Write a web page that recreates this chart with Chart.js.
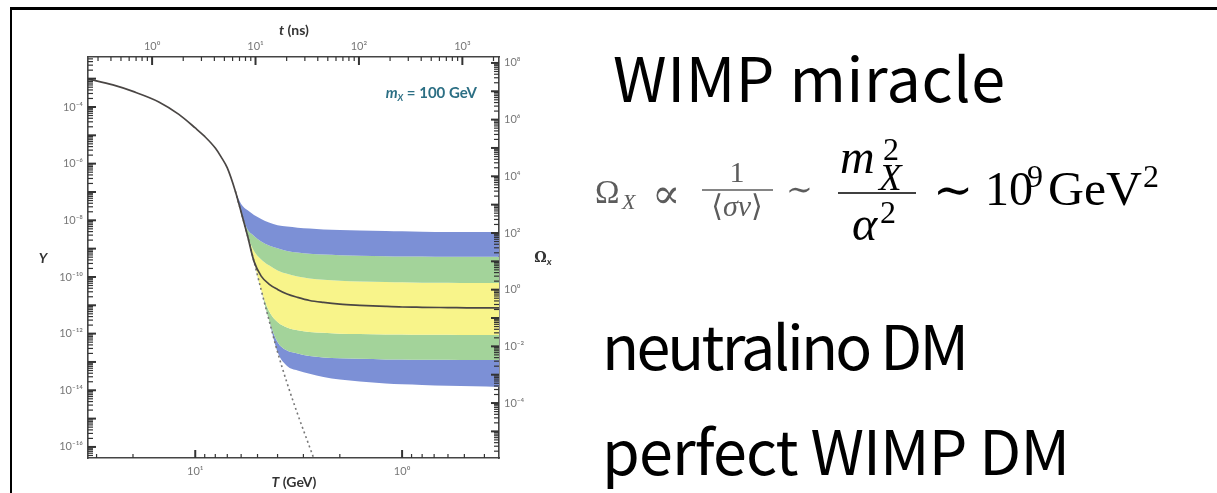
<!DOCTYPE html>
<html>
<head>
<meta charset="utf-8">
<script src="https://cdn.jsdelivr.net/npm/chart.js@4.4.1/dist/chart.umd.min.js"></script>
<style>
html, body { margin: 0; padding: 0; background: #fff; width: 1217px; height: 493px; overflow: hidden; }
#frame { position: absolute; left: 10px; top: 7px; width: 1300px; height: 600px; border-top: 3px solid #000; border-left: 2px solid #000; }
#wrap { position: absolute; left: 12px; top: 10px; width: 548px; height: 483px; }
svg { position: absolute; left: 0; top: 0; }
</style>
</head>
<body>
<div id="frame"></div>
<div id="wrap"><canvas id="relicChart" width="548" height="483" style="width:548px;height:483px"></canvas></div>

<svg width="1217" height="493" font-family="'Liberation Serif','DejaVu Serif',serif">
  <g font-family="'Noto Sans CJK JP','Noto Sans',sans-serif" font-size="61" fill="#000">
    <text x="613" y="102" textLength="392" lengthAdjust="spacing">WIMP miracle</text>
    <text x="602" y="370" textLength="367" lengthAdjust="spacing">neutralino DM</text>
    <text x="602" y="475" textLength="468" lengthAdjust="spacing">perfect WIMP DM</text>
  </g>
  <g fill="#5c5c5c" font-size="30">
    <text x="595" y="203" font-size="33">Ω</text>
    <text x="622" y="209" font-size="22" font-style="italic">X</text>
    <text x="652" y="208" font-size="42" font-family="'DejaVu Serif',serif">∝</text>
    <text x="737" y="182" text-anchor="middle">1</text>
    <line x1="702" y1="190" x2="773" y2="190" stroke="#5c5c5c" stroke-width="1.6"/>
    <text x="737" y="216" text-anchor="middle">⟨<tspan font-style="italic">σv</tspan>⟩</text>
    <text x="786" y="200" font-size="32">∼</text>
  </g>
  <g fill="#000" font-size="48">
    <text x="840" y="173" font-style="italic">m</text>
    <text x="879" y="190" font-size="37" font-style="italic">X</text>
    <text x="883" y="160" font-size="32">2</text>
    <line x1="838" y1="193" x2="916" y2="193" stroke="#000" stroke-width="1.6"/>
    <text x="852" y="240" font-style="italic">α</text>
    <text x="880" y="223" font-size="32">2</text>
    <text x="933" y="206">∼</text>
    <text x="985" y="205">10</text>
    <text x="1027" y="187" font-size="32">9</text>
    <text x="1048" y="205" textLength="94" lengthAdjust="spacingAndGlyphs">GeV</text>
    <text x="1143" y="187" font-size="32">2</text>
  </g>
</svg>

<script>
// temperature T (GeV) and log10(Y)
const tHot = [33, 25, 20, 15, 12, 10, 9, 8, 7.5, 7];
const yHot = [-3.01, -3.22, -3.45, -3.82, -4.26, -4.74, -5.04, -5.45, -5.76, -6.15];

const tBand = [6.4, 6.0, 5.6, 5.2, 4.8, 4.4, 4.0, 3.6, 3.2, 2.8, 2.4, 2.0, 1.6, 1.2, 1.0, 0.8, 0.6, 0.45, 0.34];
const yMid        = [-6.97, -7.71, -8.52, -9.45, -9.97, -10.25, -10.44, -10.60, -10.72, -10.83, -10.90, -10.96, -11.00, -11.04, -11.06, -11.07, -11.08, -11.09, -11.09];
const yBlueTop    = [-6.97, -7.42, -7.64, -7.81, -7.95, -8.08, -8.17, -8.22, -8.26, -8.29, -8.32, -8.34, -8.36, -8.38, -8.39, -8.40, -8.41, -8.41, -8.41];
const yBlueGreen  = [-6.97, -7.71, -8.31, -8.55, -8.75, -8.89, -8.99, -9.08, -9.14, -9.18, -9.21, -9.23, -9.25, -9.27, -9.28, -9.28, -9.29, -9.29, -9.29];
const yGreenYel   = [-6.97, -7.71, -8.52, -9.08, -9.38, -9.59, -9.77, -9.89, -9.98, -10.05, -10.10, -10.13, -10.16, -10.18, -10.19, -10.20, -10.20, -10.21, -10.21];
const yYelGreen   = [-6.97, -7.71, -8.52, -9.45, -10.46, -11.20, -11.59, -11.78, -11.88, -11.94, -11.97, -12.00, -12.01, -12.03, -12.03, -12.04, -12.04, -12.05, -12.05];
const yGreenBlue  = [-6.97, -7.71, -8.52, -9.45, -10.46, -11.52, -12.30, -12.60, -12.70, -12.79, -12.84, -12.87, -12.89, -12.91, -12.91, -12.92, -12.92, -12.93, -12.93];
const yBlueBottom = [-6.97, -7.71, -8.52, -9.45, -10.46, -11.52, -12.65, -13.14, -13.30, -13.42, -13.53, -13.62, -13.69, -13.76, -13.79, -13.81, -13.84, -13.86, -13.88];

// equilibrium tail (dashed)
const tEq = [6.4, 6.0, 5.6, 5.2, 4.8, 4.4, 4.0, 3.6, 3.2, 2.8, 2.4];
const yEq = [-6.97, -7.71, -8.52, -9.45, -10.46, -11.52, -12.65, -13.74, -14.84, -16.00, -17.34];

// axis ranges and labelled ticks
const TRange = [0.34, 33];
const tRange = [0.24, 2261];
const YRange = [4.07e-17, 5.82e-3];
const OmegaRange = [1.15e-6, 1.62e8];

const yTickVals = [1e-16, 1e-14, 1e-12, 1e-10, 1e-8, 1e-6, 1e-4];
const yTickLabels = ['10⁻¹⁶', '10⁻¹⁴', '10⁻¹²', '10⁻¹⁰', '10⁻⁸', '10⁻⁶', '10⁻⁴'];
const omegaTickVals = [1e-4, 1e-2, 1, 1e2, 1e4, 1e6, 1e8];
const omegaTickLabels = ['10⁻⁴', '10⁻²', '10⁰', '10²', '10⁴', '10⁶', '10⁸'];
const tTickVals = [1, 10, 100, 1000];
const tTickLabels = ['10⁰', '10¹', '10²', '10³'];
const TTickVals = [10, 1];
const TTickLabels = ['10¹', '10⁰'];

const blue = '#7c90d6';
const green = '#a3d39a';
const yellow = '#f8f48a';

const pts = (xs, ys) => xs.map((x, i) => ({ x: x, y: Math.pow(10, ys[i]) }));

// 1..9 x 10^n inside a range
const logTicks = (lo, hi) => {
    const out = [];
    for (let n = Math.floor(Math.log10(lo)); n <= Math.ceil(Math.log10(hi)); n++) {
        for (let k = 1; k <= 9; k++) {
            const v = k * Math.pow(10, n);
            if (v >= lo && v <= hi) out.push({ value: v, major: k === 1 });
        }
    }
    return out;
};
const labelFor = (vals, labels) => (value) => {
    const i = vals.findIndex(v => Math.abs(Math.log10(v) - Math.log10(value)) < 1e-6);
    return i >= 0 ? labels[i] : '';
};

const tickFont = { family: "Lato, 'DejaVu Sans', sans-serif", size: 11 };
const axisBorder = { display: true, color: '#444', width: 1.6 };
const noGrid = { drawOnChartArea: false, drawTicks: false };

const richText = (ctx, parts, x, y, align) => {
    let w = 0;
    parts.forEach(p => { ctx.font = p.font; w += ctx.measureText(p.text).width; });
    let cx = align === 'right' ? x - w : align === 'center' ? x - w / 2 : x;
    parts.forEach(p => {
        ctx.font = p.font;
        ctx.fillText(p.text, cx, y + (p.dy || 0));
        cx += ctx.measureText(p.text).width;
    });
};

const inwardTicks = {
    id: 'inwardTicks',
    afterDraw(chart) {
        const ctx = chart.ctx;
        const a = chart.chartArea;
        ctx.save();
        ctx.strokeStyle = '#333';
        ['x', 'xt', 'y', 'y2'].forEach(id => {
            const s = chart.scales[id];
            const vertical = id === 'y' || id === 'y2';
            s.ticks.forEach(t => {
                const p = s.getPixelForValue(t.value);
                const len = t.major ? 8 : (vertical ? 5 : 4);
                ctx.lineWidth = t.major ? 2 : 1.2;
                ctx.beginPath();
                if (id === 'y') { ctx.moveTo(a.left, p); ctx.lineTo(a.left + len, p); }
                if (id === 'y2') { ctx.moveTo(a.right, p); ctx.lineTo(a.right - len, p); }
                if (id === 'x') { ctx.moveTo(p, a.bottom); ctx.lineTo(p, a.bottom - len); }
                if (id === 'xt') { ctx.moveTo(p, a.top); ctx.lineTo(p, a.top + len); }
                ctx.stroke();
            });
        });
        ctx.restore();
    }
};

const axisTitles = {
    id: 'axisTitles',
    afterDraw(chart) {
        const ctx = chart.ctx;
        const a = chart.chartArea;
        ctx.save();
        ctx.textBaseline = 'middle';
        ctx.fillStyle = '#333';
        richText(ctx, [{ text: 't', font: 'italic bold 14px Lato' }, { text: ' (ns)', font: 'bold 14px Lato' }], a.left + 206, a.top - 27, 'center');
        richText(ctx, [{ text: 'T', font: 'italic bold 14px Lato' }, { text: ' (GeV)', font: 'bold 14px Lato' }], a.left + 206, a.bottom + 24, 'center');
        richText(ctx, [{ text: 'Y', font: 'italic bold 14px Lato' }], a.left - 45, a.top + 201, 'center');
        richText(ctx, [{ text: 'Ω', font: 'bold 14px "DejaVu Serif"' }, { text: 'x', font: 'italic bold 10px Lato', dy: 4 }], a.right + 44, a.top + 201, 'center');
        ctx.fillStyle = '#2c6f84';
        richText(ctx, [{ text: 'm', font: 'italic bold 15px Lato' }, { text: 'X', font: 'italic bold 9px Lato', dy: 5 }, { text: ' = 100 GeV', font: 'bold 15px Lato' }], a.right - 22, a.top + 36, 'right');
        ctx.restore();
    }
};

const ctx = document.getElementById('relicChart').getContext('2d');
new Chart(ctx, {
    type: 'line',
    data: {
        datasets: [
            { label: 'Y', data: pts(tHot.concat(tBand), yHot.concat(yMid)), borderColor: '#4a4644', borderWidth: 1.7, fill: false },
            { label: 'equilibrium', data: pts(tEq, yEq), borderColor: '#777', borderWidth: 1.6, borderDash: [2, 3], fill: false },
            { label: 'b0', data: pts(tBand, yBlueTop), borderWidth: 0, backgroundColor: blue, fill: 3 },
            { label: 'b1', data: pts(tBand, yBlueGreen), borderWidth: 0, backgroundColor: green, fill: 4 },
            { label: 'b2', data: pts(tBand, yGreenYel), borderWidth: 0, backgroundColor: yellow, fill: 5 },
            { label: 'b3', data: pts(tBand, yYelGreen), borderWidth: 0, backgroundColor: green, fill: 6 },
            { label: 'b4', data: pts(tBand, yGreenBlue), borderWidth: 0, backgroundColor: blue, fill: 7 },
            { label: 'b5', data: pts(tBand, yBlueBottom), borderWidth: 0, fill: false }
        ]
    },
    options: {
        responsive: false,
        animation: false,
        events: [],
        layout: { padding: 0 },
        elements: { point: { radius: 0 }, line: { cubicInterpolationMode: 'monotone' } },
        plugins: { legend: { display: false }, tooltip: { enabled: false } },
        scales: {
            x: {
                type: 'logarithmic', position: 'bottom', reverse: true,
                min: TRange[0], max: TRange[1], bounds: 'data',
                afterBuildTicks: s => { s.ticks = logTicks(TRange[0], TRange[1]); },
                afterFit: s => { s.height = 35; },
                grid: noGrid, border: axisBorder,
                ticks: { autoSkip: false, maxRotation: 0, padding: 7, color: '#777', font: tickFont, callback: labelFor(TTickVals, TTickLabels) }
            },
            xt: {
                type: 'logarithmic', position: 'top', display: true,
                min: tRange[0], max: tRange[1], bounds: 'data',
                afterBuildTicks: s => { s.ticks = logTicks(tRange[0], tRange[1]); },
                afterFit: s => { s.height = 47; },
                grid: noGrid, border: axisBorder,
                ticks: { autoSkip: false, maxRotation: 0, padding: 4, color: '#777', font: tickFont, callback: labelFor(tTickVals, tTickLabels) }
            },
            y: {
                type: 'logarithmic', position: 'left',
                min: YRange[0], max: YRange[1], bounds: 'data',
                afterBuildTicks: s => { s.ticks = logTicks(YRange[0], YRange[1]); },
                afterFit: s => { s.width = 76; },
                grid: noGrid, border: axisBorder,
                ticks: { autoSkip: false, padding: 5, color: '#777', font: tickFont, callback: labelFor(yTickVals, yTickLabels) }
            },
            y2: {
                type: 'logarithmic', position: 'right', display: true,
                min: OmegaRange[0], max: OmegaRange[1], bounds: 'data',
                afterBuildTicks: s => { s.ticks = logTicks(OmegaRange[0], OmegaRange[1]); },
                afterFit: s => { s.width = 61; },
                grid: noGrid, border: axisBorder,
                ticks: { autoSkip: false, padding: 5, color: '#777', font: tickFont, callback: labelFor(omegaTickVals, omegaTickLabels) }
            }
        }
    },
    plugins: [inwardTicks, axisTitles]
});
</script>
</body>
</html>
